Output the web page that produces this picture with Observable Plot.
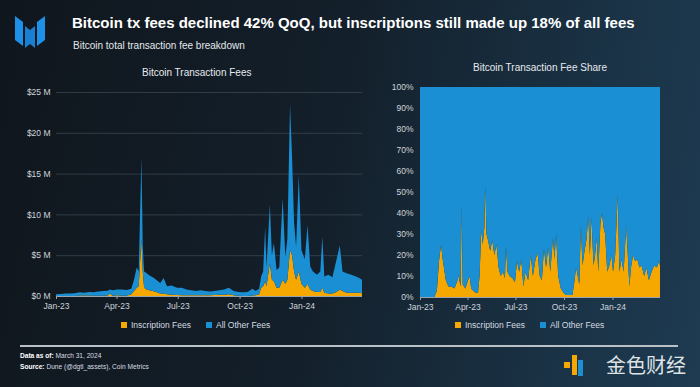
<!DOCTYPE html>
<html><head><meta charset="utf-8">
<script src="https://cdn.jsdelivr.net/npm/d3@7"></script>
<script src="https://cdn.jsdelivr.net/npm/@observablehq/plot@0.6"></script>
<style>
html,body{margin:0;padding:0;}
#root{position:relative;width:700px;height:387px;overflow:hidden;
 background:linear-gradient(100deg,#10161d 0%,#131f2a 45%,#1a3245 80%,#1e3b52 100%);
 font-family:"Liberation Sans",Arial,sans-serif;color:#fff;}
.abs{position:absolute;}
#title{left:72px;top:14px;font-size:15px;font-weight:bold;white-space:nowrap;}
#subtitle{left:73px;top:40px;font-size:10px;color:#e4e8ec;}
.ctitle{font-size:10px;color:#e6eaee;white-space:nowrap;}
.legend{font-size:8.5px;color:#d6dbe0;white-space:nowrap;display:flex;align-items:center;gap:0;}
.sw{display:inline-block;width:6px;height:6px;margin-right:4px;}
#rule{left:20px;top:345px;width:658px;height:1.5px;background:#b9c0c6;}
.foot{left:20px;font-size:6.6px;color:#d8dde2;white-space:nowrap;}
.foot b{color:#fff;}
#jinse{right:14px;top:350px;font-family:"Noto Sans CJK SC",sans-serif;font-size:20px;color:#dfe3e6;}
</style></head>
<body><div id="root">
<svg class="abs" style="left:14px;top:12px" width="32" height="40" viewBox="0 0 32 40">
 <polygon points="1,4 9,10 9,34 1,28" fill="#1e90e8"/>
 <polygon points="31,4 23,10 23,34 31,28" fill="#1e90e8"/>
 <polygon points="11,14 16,18 21,14 21,36 16,32 11,36" fill="#1a7fd0"/>
</svg>
<div id="title" class="abs">Bitcoin tx fees declined 42% QoQ, but inscriptions still made up 18% of all fees</div>
<div id="subtitle" class="abs">Bitcoin total transaction fee breakdown</div>
<div class="abs ctitle" style="left:142px;top:67px">Bitcoin Transaction Fees</div>
<div class="abs ctitle" style="left:473px;top:62px">Bitcoin Transaction Fee Share</div>
<div id="left" class="abs" style="left:0;top:60px"></div>
<div id="right" class="abs" style="left:360px;top:60px"></div>
<div class="abs legend" style="left:121px;top:320px"><span class="sw" style="background:#f7a800"></span>Inscription Fees<span style="width:15px"></span><span class="sw" style="background:#1a8fd3"></span>All Other Fees</div>
<div class="abs legend" style="left:455px;top:320px"><span class="sw" style="background:#f7a800"></span>Inscription Fees<span style="width:15px"></span><span class="sw" style="background:#1a8fd3"></span>All Other Fees</div>
<div id="rule" class="abs"></div>
<div class="abs foot" style="top:352px"><b>Data as of:</b> March 31, 2024</div>
<div class="abs foot" style="top:363px"><b>Source:</b> Dune (@dgtl_assets), Coin Metrics</div>
<svg class="abs" style="left:564px;top:354px" width="20" height="24">
 <rect x="0" y="8" width="6" height="6" fill="#f7a800"/>
 <rect x="8" y="1" width="5" height="20" fill="#f7a800"/>
 <rect x="14" y="6" width="5" height="16" fill="#1a8fd3"/>
</svg>
<div id="jinse" class="abs">金色财经</div>
</div>
<script>
// ---- Left chart: daily fee values ($M) ----
const feeDates = ["2023-01-01","2023-01-08","2023-01-15","2023-01-22","2023-01-29","2023-02-05","2023-02-12","2023-02-19","2023-02-26","2023-03-05","2023-03-12","2023-03-19","2023-03-22","2023-03-26","2023-04-02","2023-04-09","2023-04-16","2023-04-23","2023-04-27","2023-05-01","2023-05-04","2023-05-08","2023-05-10","2023-05-12","2023-05-16","2023-05-20","2023-05-25","2023-05-30","2023-06-05","2023-06-10","2023-06-15","2023-06-22","2023-06-30","2023-07-07","2023-07-14","2023-07-21","2023-07-28","2023-08-04","2023-08-11","2023-08-18","2023-08-25","2023-09-01","2023-09-08","2023-09-15","2023-09-22","2023-09-29","2023-10-06","2023-10-13","2023-10-20","2023-10-25","2023-10-30","2023-11-02","2023-11-05","2023-11-08","2023-11-10","2023-11-15","2023-11-18","2023-11-21","2023-11-25","2023-11-29","2023-12-04","2023-12-08","2023-12-11","2023-12-15","2023-12-18","2023-12-21","2023-12-24","2023-12-28","2024-01-01","2024-01-06","2024-01-10","2024-01-14","2024-01-18","2024-01-24","2024-01-29","2024-02-01","2024-02-04","2024-02-10","2024-02-16","2024-02-22","2024-02-27","2024-03-02","2024-03-08","2024-03-15","2024-03-22","2024-03-27","2024-03-31"];
const inscriptionFees = [0,0,0,0,0.01,0.05,0.05,0.05,0.03,0.03,0.04,0.05,0.3,0.04,0.08,0.03,0.02,0.2,0.6,1.0,1.2,7.0,3.0,1.0,0.8,0.7,0.6,0.5,0.3,0.3,0.2,0.15,0.12,0.1,0.1,0.08,0.1,0.1,0.1,0.08,0.12,0.15,0.15,0.2,0.1,0.02,0.01,0.01,0.05,0.08,0.2,1.0,1.2,1.8,1.2,4.0,2.0,1.8,1.0,1.0,2.0,1.5,2.0,5.6,5.0,3.0,2.0,3.0,1.5,1.0,1.5,0.8,0.6,0.5,0.5,1.0,0.4,0.3,0.3,0.5,0.8,0.6,0.4,0.4,0.4,0.4,0.35];
const otherFees = [0.2,0.25,0.3,0.3,0.34,0.4,0.35,0.45,0.42,0.52,0.56,0.6,0.5,0.66,0.72,0.77,0.73,0.7,1.4,2.5,1.8,10.0,3.0,2.0,2.0,1.8,1.7,1.5,1.3,1.9,1.0,1.15,0.88,0.9,0.7,0.62,0.5,0.6,0.5,0.47,0.48,0.55,0.65,0.8,0.5,0.48,0.44,0.49,0.85,0.52,0.7,1.4,1.8,6.7,2.3,7.2,3.0,4.7,2.2,2.5,10.0,3.3,5.0,17.9,12.0,6.0,4.0,11.8,4.1,3.5,7.2,2.8,2.4,2.1,2.5,6.3,2.0,2.3,2.0,3.9,5.4,2.4,2.4,2.2,2.0,1.8,1.65];
// ---- Right chart: inscription share of fees (%) ----
const shareDates = ["2023-01-01","2023-01-28","2023-02-02","2023-02-06","2023-02-10","2023-02-13","2023-02-19","2023-02-24","2023-03-02","2023-03-07","2023-03-12","2023-03-15","2023-03-19","2023-03-21","2023-03-23","2023-03-28","2023-04-02","2023-04-05","2023-04-08","2023-04-12","2023-04-17","2023-04-21","2023-04-24","2023-04-27","2023-04-30","2023-05-03","2023-05-05","2023-05-07","2023-05-10","2023-05-14","2023-05-18","2023-05-22","2023-05-26","2023-05-30","2023-06-03","2023-06-07","2023-06-11","2023-06-13","2023-06-16","2023-06-20","2023-06-25","2023-06-30","2023-07-04","2023-07-08","2023-07-12","2023-07-16","2023-07-20","2023-07-25","2023-07-30","2023-08-03","2023-08-08","2023-08-12","2023-08-16","2023-08-20","2023-08-24","2023-08-28","2023-09-01","2023-09-05","2023-09-10","2023-09-13","2023-09-16","2023-09-20","2023-09-25","2023-09-30","2023-10-05","2023-10-12","2023-10-17","2023-10-21","2023-10-24","2023-10-27","2023-10-30","2023-11-02","2023-11-05","2023-11-09","2023-11-13","2023-11-16","2023-11-19","2023-11-22","2023-11-26","2023-11-29","2023-12-02","2023-12-05","2023-12-09","2023-12-12","2023-12-15","2023-12-18","2023-12-22","2023-12-26","2023-12-30","2024-01-02","2024-01-06","2024-01-11","2024-01-14","2024-01-18","2024-01-22","2024-01-27","2024-02-02","2024-02-05","2024-02-09","2024-02-13","2024-02-17","2024-02-21","2024-02-25","2024-03-01","2024-03-05","2024-03-10","2024-03-15","2024-03-20","2024-03-25","2024-03-29","2024-03-31"];
const inscriptionShare = [0,0,3,17,25,18,8,5,5,4,7,10,5,43,6,4,8,10,4,3,2,2,10,32,25,33,53,30,27,22,27,20,25,14,10,12,9,24,12,10,9,7,17,12,18,5,12,8,20,10,18,21,10,8,23,14,24,12,28,18,30,10,4,2,1,1,1,8,14,10,6,34,15,22,28,39,20,38,15,20,28,12,35,40,33,30,12,15,20,12,20,49,12,18,12,34,5,14,20,17,18,14,15,10,14,8,12,15,14,17,15,30];
const seriesNames = ["Inscription Fees","All Other Fees"];
const seriesColors = ["#f7a800","#1a8fd3"];
const xTicks = ["2023-01-01","2023-04-01","2023-07-01","2023-10-01","2024-01-01"];
const feeTicks = [0,5,10,15,20,25];
const shareTicks = [0,10,20,30,40,50,60,70,80,90,100];

const parse = d3.utcParse("%Y-%m-%d");
const xDomain = [parse("2023-01-01"), parse("2024-03-31")];
const fmtX = d3.utcFormat("%b-%y");

const feeData = [];
feeDates.forEach((d,i)=>{
  feeData.push({date:parse(d), series:seriesNames[0], value:inscriptionFees[i]});
  feeData.push({date:parse(d), series:seriesNames[1], value:otherFees[i]});
});
const shareData = [];
shareDates.forEach((d,i)=>{
  shareData.push({date:parse(d), series:seriesNames[0], value:inscriptionShare[i]});
  shareData.push({date:parse(d), series:seriesNames[1], value:100-inscriptionShare[i]});
});

const common = {
  style:{background:"transparent", color:"#cfd5da", fontFamily:"'Liberation Sans', Arial, sans-serif", fontSize:"8.5px"},
  color:{domain:seriesNames, range:seriesColors},
};

const left = Plot.plot({
  ...common,
  width:370, height:260, marginLeft:56, marginRight:8, marginTop:32, marginBottom:24,
  x:{type:"utc", domain:xDomain, ticks:xTicks.map(parse), tickFormat:fmtX, label:null, tickSize:3, tickPadding:3},
  y:{domain:[0,25], ticks:feeTicks, tickFormat:d=>`$${d} M`, label:null, tickSize:0, tickPadding:6},
  marks:[
    Plot.gridY(feeTicks.filter(d=>d>0), {stroke:"#55616b", strokeOpacity:0.6, strokeWidth:0.8}),
    Plot.areaY(feeData, {x:"date", y:"value", fill:"series", z:"series"}),
    Plot.ruleY([0], {stroke:"#9aa3ab", strokeWidth:1}),
    Plot.axisX({ticks:xTicks.map(parse), tickFormat:fmtX, tickSize:3, stroke:"#9aa3ab", tickPadding:3}),
  ]
});
document.getElementById("left").appendChild(left);

const right = Plot.plot({
  ...common,
  width:340, height:260, marginLeft:60, marginRight:40, marginTop:27, marginBottom:23,
  x:{type:"utc", domain:xDomain, ticks:xTicks.map(parse), tickFormat:fmtX, label:null, tickSize:3, tickPadding:3},
  y:{domain:[0,100], ticks:shareTicks, tickFormat:d=>`${d}%`, label:null, tickSize:0, tickPadding:7},
  marks:[
    Plot.areaY(shareData, {x:"date", y:"value", fill:"series", z:"series"}),
    Plot.ruleY([0], {stroke:"#9aa3ab", strokeWidth:1}),
    Plot.axisX({ticks:xTicks.map(parse), tickFormat:fmtX, tickSize:3, stroke:"#9aa3ab", tickPadding:3}),
  ]
});
document.getElementById("right").appendChild(right);
</script>
</body></html>
